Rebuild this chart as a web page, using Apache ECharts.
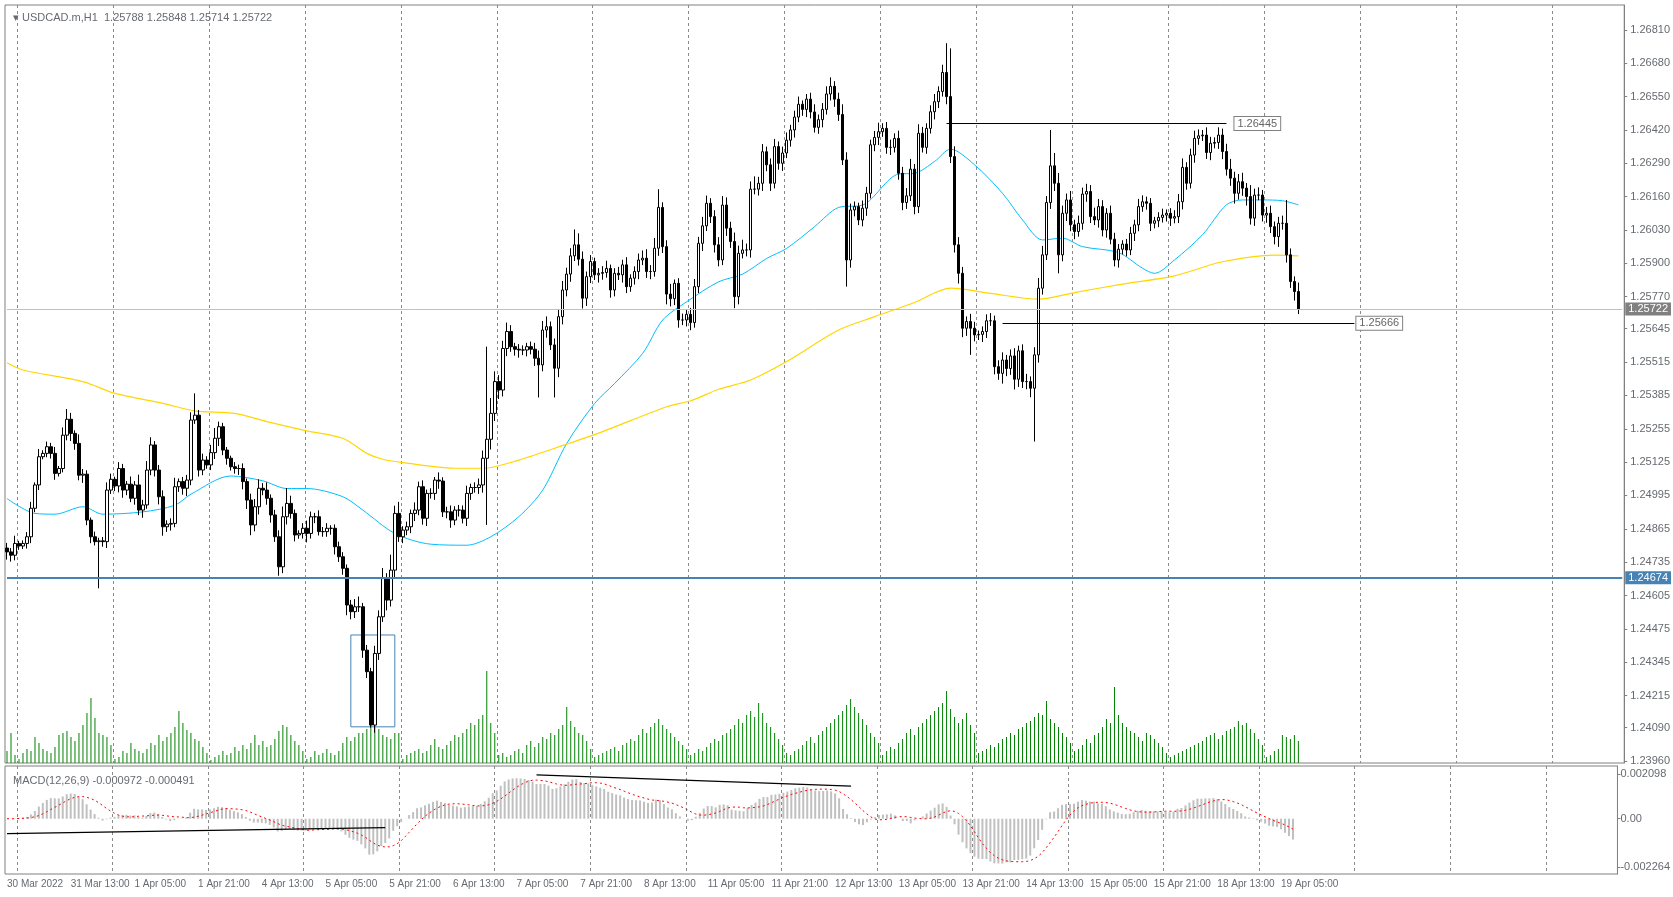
<!DOCTYPE html>
<html><head><meta charset="utf-8">
<script src="https://cdn.jsdelivr.net/npm/echarts@6/dist/echarts.min.js"></script>
<style>html,body{margin:0;padding:0;background:#fff}#c{width:1673px;height:897px}</style>
</head><body><div id="c"></div>
<script>
// ---- DATA ----
const priceBase = 1.24; // closes stored in 1e-5 units above 1.24000
const closePips = [
775,762,808,798,808,834,945,1036,1146,1159,
1185,1159,1081,1100,1230,1292,1237,1198,1074,1078,
899,834,815,818,815,1016,1058,1032,1100,1016,
1039,984,1036,938,958,1094,1192,1094,990,873,
883,886,1029,1049,1023,1055,1289,1308,1094,1133,
1114,1162,1218,1263,1172,1140,1107,1100,1100,1049,
977,880,951,1023,1016,984,919,834,717,912,
964,925,841,847,867,847,912,912,854,854,
867,867,795,756,711,568,542,561,561,392,
308,100,379,522,672,587,704,925,834,860,
873,925,938,1029,906,1003,1003,1055,1051,931,
931,899,938,938,906,1003,1026,1026,1036,1140,
1214,1315,1439,1406,1568,1634,1575,1565,1562,1562,
1575,1565,1530,1504,1640,1653,1582,1491,1692,1796,
1858,1929,1972,1916,1764,1848,1907,1855,1861,1864,
1880,1796,1861,1855,1894,1809,1842,1868,1913,1920,
1868,1868,1959,2118,1965,1780,1762,1822,1679,1679,
1701,1669,1809,1978,2046,2134,2082,1972,1913,2127,
2037,1985,1770,1939,1952,1952,2189,2189,2212,2335,
2284,2212,2355,2290,2330,2380,2420,2470,2520,2500,
2540,2490,2430,2460,2500,2560,2590,2540,2480,2303,
1913,2108,2121,2069,2115,2173,2362,2391,2413,2426,
2352,2352,2387,2251,2137,2163,2267,2121,2407,2352,
2426,2491,2530,2570,2644,2550,2316,1972,1861,1647,
1673,1647,1621,1623,1634,1676,1676,1497,1471,1523,
1490,1539,1448,1559,1439,1439,1413,1543,1803,1933,
2137,2280,2212,1933,2095,2147,2050,2024,2056,2170,
2180,2082,2069,2121,2030,2095,1994,1913,1955,1975,
1952,2017,2050,2121,2140,2134,2056,2066,2079,2088,
2095,2076,2082,2140,2274,2212,2322,2387,2397,2400,
2332,2368,2371,2400,2336,2267,2232,2173,2218,2193,
2160,2076,2166,2166,2088,2095,2043,2004,2056,2056,
1933,1829,1790,1722];
const firstOpenPips = 790;
const wickUpPips = [
20,15,30,10,12,18,25,10,30,12, 20,15,25,10,30,40,25,12,35,20,
15,10,20,12,15,30,22,10,25,18, 12,30,15,40,20,35,30,15,20,25,
15,20,35,12,18,20,30,85,20,25, 15,30,40,20,15,12,10,18,15,20,
12,25,30,35,20,30,15,20,25,40, 60,30,15,12,20,30,20,15,25,18,
20,12,15,20,18,15,20,30,40,15, 20,15,30,25,40,20,60,30,45,15,
20,15,30,20,25,15,20,12,30,15, 20,25,15,20,18,30,15,20,25,30,
361,60,40,25,30,35,25,15,20,18, 15,20,25,30,35,40,20,25,30,35,
25,30,60,45,30,20,25,15,20,25, 30,15,20,25,20,30,15,20,25,30,
35,25,40,71,20,25,40,15,20,25, 20,25,30,25,35,30,20,25,30,35,
30,25,35,30,40,25,30,50,25,30, 20,25,30,20,25,30,20,25,30,15,
20,25,30,20,25,30,35,20,25,40, 30,25,20,15,30,25,20,25,35,20,
25,30,20,30,25,30,40,20,35,25, 20,25,30,20,30,114,188,40,30,25,
20,30,25,15,20,25,30,20,25,30, 20,25,30,20,25,30,20,30,40,35,
25,140,50,40,30,25,35,20,30,25, 30,25,35,30,25,20,30,25,20,15,
20,25,20,30,25,20,20,15,20,25, 15,20,25,30,35,20,25,30,25,20,
30,25,20,30,25,30,40,25,30,35, 20,45,25,30,20,25,30,20,25,30,
91,25,20,35];
const wickDnPips = [
30,25,20,15,12,20,25,15,20,10, 15,20,25,12,15,20,30,25,20,30,
20,25,15,182,20,25,15,20,25,30, 20,15,25,20,30,15,20,25,30,35,
20,25,15,20,25,30,20,15,25,20, 15,20,25,30,20,25,15,20,25,30,
35,40,25,30,20,25,30,20,35,25, 30,20,25,15,20,35,20,25,15,20,
20,25,30,20,25,40,30,25,20,30, 25,10,30,25,20,40,25,30,20,25,
20,25,30,20,25,30,20,25,30,20, 25,30,20,25,20,30,25,20,25,30,
260,40,30,35,25,30,20,25,30,20, 25,20,30,127,25,30,20,114,35,30,
25,30,20,25,40,30,25,20,30,25, 20,30,25,20,30,25,20,25,30,20,
25,30,20,30,25,40,30,25,30,20, 25,30,20,25,30,20,25,30,25,20,
30,25,45,30,20,25,30,20,25,30, 25,30,20,25,30,20,25,30,20,25,
30,25,20,25,30,20,25,30,25,20, 104,30,25,20,25,30,20,25,30,20,
25,30,20,25,30,25,20,30,25,20, 25,20,30,25,20,30,25,30,40,35,
30,104,25,20,30,25,20,30,25,40, 30,25,40,30,25,30,35,208,30,25,
20,25,30,72,25,30,25,30,20,25, 30,25,20,30,25,30,20,25,30,20,
25,20,30,25,20,25,30,20,25,20, 25,30,20,25,30,25,20,30,25,20,
25,30,20,25,30,25,30,40,25,30, 35,25,30,20,25,30,25,30,40,25,
30,25,35,20];
const tickVolume = [
12,30,8,
4,10,14,12,26,20,14,12,10,16,28,30,32,26,22,30,38,50,65,45,30,28,26,18,
4,6,12,10,20,14,12,10,14,20,18,28,22,26,30,36,52,40,33,30,24,22,16,10,
3,6,8,12,8,10,16,12,18,14,20,28,18,22,16,18,24,32,38,36,28,22,18,12,
4,6,12,8,10,14,10,8,12,20,26,22,26,30,30,34,40,63,34,28,26,24,30,30,
4,8,10,12,14,10,12,18,24,16,14,18,22,28,26,30,34,40,38,44,48,92,40,30,
8,10,6,8,12,14,10,18,22,16,20,26,24,30,28,34,38,56,42,36,30,28,22,14,
6,8,10,12,14,16,12,18,20,24,22,28,34,30,36,40,44,38,34,30,26,22,18,14,
8,10,14,12,16,20,24,22,28,30,34,38,44,40,48,52,46,60,50,40,36,30,24,18,
10,8,12,14,18,22,26,20,28,32,36,40,44,48,52,58,64,56,50,44,38,30,26,20,
8,12,16,14,20,24,30,34,28,36,40,44,48,52,56,60,72,54,46,40,44,50,38,30,
10,12,14,18,16,20,24,26,30,28,34,36,40,42,46,50,48,62,44,40,36,30,26,20,
12,14,18,24,20,28,30,36,44,40,76,48,40,36,32,30,26,22,30,28,24,20,16,10,
6,8,10,12,14,16,18,20,22,26,28,30,24,28,32,34,36,42,38,40,34,30,24,18,
6,8,12,14,28,26,24,28,22];
// moving averages: [bar, price]
const maFast = [[0,1.24983],[7,1.24925],[12,1.24922],[19,1.24951],[24,1.24922],[34,1.24931],[42,1.24957],[46,1.25000],[56,1.25071],[64,1.25052],[70,1.25022],[75,1.25022],[84,1.24990],[89,1.24938],[97,1.24847],[106,1.24805],[115,1.24801],[121,1.24834],[128,1.24912],[134,1.25016],[140,1.25198],[147,1.25354],[152,1.25432],[159,1.25549],[164,1.25679],[170,1.25750],[178,1.25828],[184,1.25858],[190,1.25919],[195,1.25958],[202,1.26043],[208,1.26118],[214,1.26127],[223,1.26248],[227,1.26251],[232,1.26297],[236,1.26345],[242,1.26284],[249,1.26173],[254,1.26069],[259,1.25991],[264,1.25998],[269,1.25965],[278,1.25942],[284,1.25881],[287,1.25861],[292,1.25913],[299,1.26011],[305,1.26128],[309,1.26147],[314,1.26147],[319,1.26144],[323,1.26128]];
const maSlow = [[0,1.25512],[4,1.25484],[19,1.25439],[27,1.25393],[39,1.25354],[47,1.25325],[57,1.25315],[65,1.25283],[75,1.25247],[84,1.25218],[90,1.25159],[94,1.25136],[99,1.25123],[113,1.25101],[119,1.25101],[128,1.25133],[140,1.25195],[149,1.25244],[165,1.25341],[171,1.25364],[178,1.25409],[186,1.25445],[195,1.25517],[208,1.25640],[217,1.25692],[227,1.25747],[236,1.25803],[246,1.25783],[258,1.25760],[267,1.25786],[279,1.25819],[292,1.25851],[304,1.25906],[317,1.25932],[323,1.25929]];
const timeLabels = ["30 Mar 2022","31 Mar 13:00","1 Apr 05:00","1 Apr 21:00","4 Apr 13:00","5 Apr 05:00","5 Apr 21:00","6 Apr 13:00","7 Apr 05:00","7 Apr 21:00","8 Apr 13:00","11 Apr 05:00","11 Apr 21:00","12 Apr 13:00","13 Apr 05:00","13 Apr 21:00","14 Apr 13:00","15 Apr 05:00","15 Apr 21:00","18 Apr 13:00","19 Apr 05:00"];
const priceTicks = [1.26810,1.26680,1.26550,1.26420,1.26290,1.26160,1.26030,1.25900,1.25770,1.25645,1.25515,1.25385,1.25255,1.25125,1.24995,1.24865,1.24735,1.24605,1.24475,1.24345,1.24215,1.24090,1.23960];
const macdTicks = [0.002098, 0, -0.002264];
const macdTickText = ["0.002098","0.00","-0.002264"];
const levels = {support:1.24674, current:1.25722, high:1.26445, low:1.25666};

// ---- BUILD ----
const N = closePips.length, SLOTS = 405, LABEL_STEP = 16, GRID_STEP = 24, GRID_OFF = 3;
const toP = v => +(priceBase + v/1e5).toFixed(5);
const cats = Array.from({length:SLOTS},(_,i)=>String(i));
const candles = closePips.map((c,i)=>{
  const o = i===0?firstOpenPips:closePips[i-1];
  const hi = Math.max(o,c)+(wickUpPips[i]||15), lo = Math.min(o,c)-(wickDnPips[i]||15);
  return [toP(o),toP(c),toP(lo),toP(hi)];
});
const closes = closePips.map(toP);
function ema(arr,n){const k=2/(n+1);let e=arr[0];return arr.map(v=>(e=v*k+e*(1-k)));}
const e12=ema(closes,12), e26=ema(closes,26);
const macd = closes.map((_,i)=>e12[i]-e26[i]);
const signal = macd.map((_,i)=>{const s=Math.max(0,i-8);const w=macd.slice(s,i+1);return w.reduce((a,b)=>a+b,0)/w.length;});
const txt = {fontFamily:'"Liberation Sans", Arial, sans-serif', fontSize:11, color:'#666a70'};
const splitL = {show:true, interval:(i)=>i%GRID_STEP===GRID_OFF, lineStyle:{color:'#8a8a8a', type:[3,3], width:1}};
const boxLabel = (t,bg,fg,bc)=>({position:'end', formatter:t, backgroundColor:bg, color:fg, borderColor:bc, borderWidth:bc?1:0, padding:[1,3], fontSize:11, fontFamily:txt.fontFamily});
const LAST = String(SLOTS-1);

const option = {
  animation:false, backgroundColor:'#fff',
  title:[
    {text:'\u25BE USDCAD.m,H1  1.25788 1.25848 1.25714 1.25722', left:8, top:7, textStyle:Object.assign({},txt,{fontWeight:'normal'})},
    {text:'MACD(12,26,9) -0.000972 -0.000491', left:8, top:770, textStyle:Object.assign({},txt,{fontWeight:'normal'})}
  ],
  grid:[
    {left:5, right:48, top:5, height:758, show:true, borderColor:'#808080', borderWidth:1},
    {left:5, right:48, top:766, height:108, show:true, borderColor:'#808080', borderWidth:1}
  ],
  xAxis:[
    {type:'category', gridIndex:0, data:cats, boundaryGap:true, axisLine:{show:false}, axisTick:{show:false}, axisLabel:{show:false}, splitLine:splitL},
    {type:'category', gridIndex:1, data:cats, boundaryGap:true, axisLine:{show:false},
      axisTick:{show:false},
      axisLabel:Object.assign({}, txt, {fontSize:10, show:true, showMinLabel:true, hideOverlap:false, interval:(i)=>i%LABEL_STEP===0 && i/LABEL_STEP<timeLabels.length, align:'left', margin:5,
        formatter:(v,i)=>timeLabels[i/LABEL_STEP]||''}), splitLine:splitL}
  ],
  yAxis:[
    {type:'value', gridIndex:0, position:'right', min:1.23952, max:1.26907,
      axisLine:{show:true, lineStyle:{color:'#808080'}}, splitLine:{show:false},
      axisTick:{show:true, customValues:priceTicks, length:3, lineStyle:{color:'#808080'}},
      axisLabel:Object.assign({customValues:priceTicks, margin:6, formatter:v=>v.toFixed(5)},txt)},
    {type:'value', gridIndex:0, min:0, max:758, show:false},
    {type:'value', gridIndex:1, position:'right', min:-0.00259, max:0.00247,
      axisLine:{show:true, lineStyle:{color:'#808080'}}, splitLine:{show:false},
      axisTick:{show:true, customValues:macdTicks, length:3, lineStyle:{color:'#808080'}},
      axisLabel:Object.assign({customValues:macdTicks, margin:3, formatter:v=>macdTickText[macdTicks.indexOf(v)]||''},txt)}
  ],
  series:[
    {type:'bar', xAxisIndex:0, yAxisIndex:1, data:tickVolume, barWidth:1, itemStyle:{color:'#008000'}, silent:true},
    {type:'candlestick', xAxisIndex:0, yAxisIndex:0, data:candles, barWidth:3, z:3,
      itemStyle:{color:'#ffffff', color0:'#000000', borderColor:'#000000', borderColor0:'#000000', borderWidth:1},
      markLine:{symbol:'none', silent:true, animation:false, data:[
        [{coord:['0',levels.support], lineStyle:{color:'#4682b4', width:2, type:'solid'}, label:Object.assign(boxLabel(levels.support.toFixed(5),'#4682b4','#fff'),{distance:3})},
         {coord:[LAST,levels.support]}],
        [{coord:['0',levels.current], lineStyle:{color:'#c0c0c0', width:1, type:'solid'}, label:Object.assign(boxLabel(levels.current.toFixed(5),'#808080','#fff'),{distance:3})},
         {coord:[LAST,levels.current]}],
        [{coord:['235',levels.high], lineStyle:{color:'#000', width:1, type:'solid'},
          label:Object.assign(boxLabel(levels.high.toFixed(5),'#fff','#666','#808080'),{distance:8})},
         {coord:['305',levels.high]}],
        [{coord:['249',levels.low], lineStyle:{color:'#000', width:1, type:'solid'},
          label:Object.assign(boxLabel(levels.low.toFixed(5),'#fff','#666','#808080'),{distance:2})},
         {coord:['337',levels.low]}]
      ]},
      markArea:{silent:true, itemStyle:{color:'rgba(0,0,0,0)', borderColor:'#4682b4', borderWidth:1},
        data:[[{coord:['86',1.24451]},{coord:['97',1.24093]}]]}
    },
    {type:'line', xAxisIndex:0, yAxisIndex:0, data:maFast, showSymbol:false, smooth:0.3, lineStyle:{color:'#00bfff', width:1}, silent:true},
    {type:'line', xAxisIndex:0, yAxisIndex:0, data:maSlow, showSymbol:false, smooth:0.3, lineStyle:{color:'#ffd700', width:1.2}, silent:true},
    {type:'bar', xAxisIndex:1, yAxisIndex:2, data:macd, barWidth:2, itemStyle:{color:'#c0c0c0'}, silent:true,
      markLine:{symbol:'none', silent:true, animation:false, lineStyle:{color:'#000', width:1.2, type:'solid'}, label:{show:false}, data:[
        [{coord:['0',-0.0007]},{coord:['95',-0.00042]}],
        [{coord:['133',0.00205]},{coord:['212',0.00153]}]
      ]}},
    {type:'line', xAxisIndex:1, yAxisIndex:2, data:signal, showSymbol:false, lineStyle:{color:'#ff0000', width:1, type:[2,3]}, silent:true}
  ]
};
echarts.init(document.getElementById('c')).setOption(option);
</script></body></html>
